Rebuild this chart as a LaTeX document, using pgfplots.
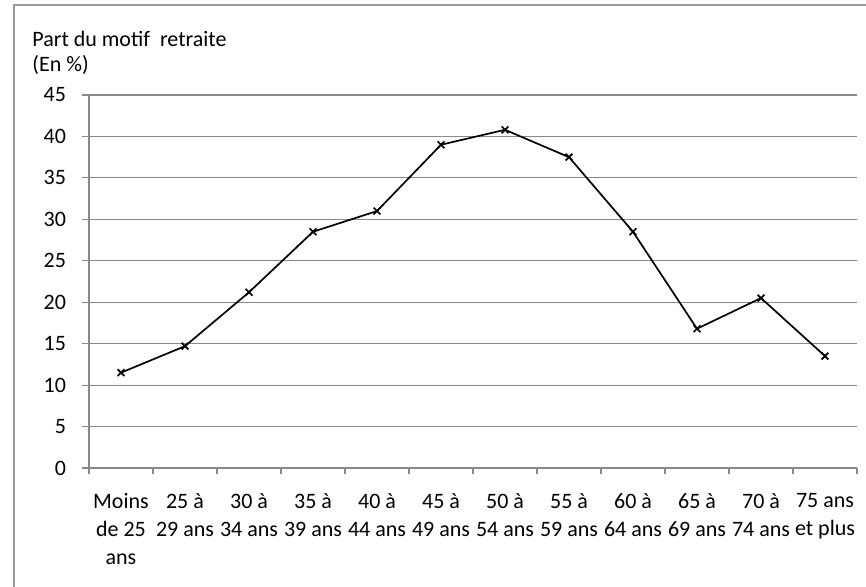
\documentclass[border=0pt]{standalone}
\usepackage{fontspec}
\setmainfont{Carlito}
\usepackage{pgfplots}
\pgfplotsset{compat=1.18}
\definecolor{cgrid}{HTML}{898989}
\definecolor{cframe}{HTML}{9A9A9A}

\begin{document}
\begin{tikzpicture}[x=1pt,y=1pt]
\path[use as bounding box] (0,0) rectangle (433,293.5);
% cadre
\draw[cframe,line width=1pt] (7,0) -- (7,291) -- (433,291);
\begin{axis}[
  at={(44.5pt,59.5pt)}, anchor=south west,
  scale only axis, width=384pt, height=186.5pt,
  xmin=-0.5, xmax=11.5, ymin=0, ymax=45,
  ytick={0,5,...,45},
  xtick={0,...,11},
  xticklabels={Moins\\de 25\\ans, 25 à\\29 ans, 30 à\\34 ans, 35 à\\39 ans,
    40 à\\44 ans, 45 à\\49 ans, 50 à\\54 ans, 55 à\\59 ans, 60 à\\64 ans,
    65 à\\69 ans, 70 à\\74 ans, 75 ans\\et plus},
  minor xtick={-0.5,0.5,...,11.5},
  axis lines*=left,
  axis line style={cgrid,line width=0.9pt},
  ymajorgrids, major grid style={cgrid,line width=0.6pt},
  tick align=outside,
  major x tick style={draw=none},
  major y tick style={cgrid,line width=0.6pt},
  minor x tick style={cgrid,line width=0.6pt},
  major tick length=3.5pt, minor tick length=3pt,
  xticklabel style={align=center,font=\fontsize{11}{14}\selectfont,yshift=-5.5pt},
  yticklabel style={font=\fontsize{11}{14}\selectfont,xshift=-4.5pt},
  /pgf/number format/assume math mode=true,
  clip=false,
]
\addplot[black,line width=0.85pt,mark=x,mark size=2.4pt] coordinates {
  (0,11.5) (1,14.7) (2,21.2) (3,28.5) (4,31.0) (5,39.0)
  (6,40.8) (7,37.5) (8,28.5) (9,16.8) (10,20.5) (11,13.5)};
\end{axis}
\node[anchor=base west,inner sep=0,font=\fontsize{11}{14}\selectfont] at (16,270) {Part du motif\ \ retraite};
\node[anchor=base west,inner sep=0,font=\fontsize{11}{14}\selectfont] at (16,257.5) {(En \%)};
\end{tikzpicture}
\end{document}
